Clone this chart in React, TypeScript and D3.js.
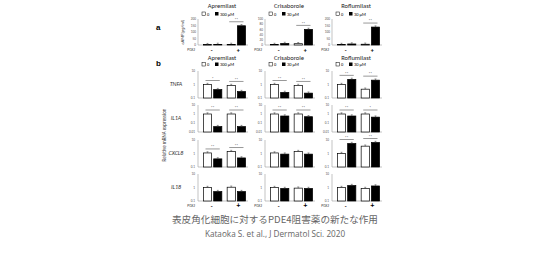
import React from 'react';
import * as d3 from 'd3';

const drugs = ['Apremilast', 'Crisaborole', 'Roflumilast'];
const doses = ['300 μM', '30 μM', '30 μM'];
const pgeLabels = ['-', '+'];
const conds = ['ctrl', 'drug'];

// panel a: cAMP (pg/ml), per drug [PGE2 -, PGE2 +]
const campCtrl = [[3, 5], [2, 5], [4, 6]];
const campDrug = [[5, 148], [6, 60], [8, 138]];
const campMax = [200, 100, 200];
const campTicks = [[0, 50, 100, 150, 200], [0, 20, 40, 60, 80, 100], [0, 50, 100, 150, 200]];
const campSig = [['', '**'], ['', '**'], ['', '**']];

// panel b: relative mRNA expression
const genes = ['TNFA', 'IL1A', 'CXCL8', 'IL18'];
const geneMin = [0.1, 0.01, 0.1, 0.1];
const geneTicks = [['10', '1', '0.1'], ['10', '1', '0.1', '0.01'], ['10', '1', '0.1'], ['10', '1', '0.1']];
const tnfaCtrl = [[1.0, 0.85], [1.0, 0.85], [1.0, 0.45]];
const tnfaDrug = [[0.42, 0.3], [0.26, 0.23], [2.4, 2.1]];
const il1aCtrl = [[1.0, 1.0], [1.0, 1.0], [1.0, 1.0]];
const il1aDrug = [[0.04, 0.04], [0.6, 0.5], [0.6, 0.45]];
const cxcl8Ctrl = [[1.1, 1.4], [1.1, 1.4], [1.0, 3.5]];
const cxcl8Drug = [[0.4, 0.47], [0.9, 0.9], [5.5, 6.5]];
const il18Ctrl = [[1.0, 1.05], [1.0, 0.9], [1.0, 0.85]];
const il18Drug = [[0.5, 0.5], [0.85, 0.85], [1.4, 1.3]];
const tnfaSig = [['*', '**'], ['**', '**'], ['**', '**']];
const il1aSig = [['**', '**'], ['**', '**'], ['**', '*']];
const cxcl8Sig = [['**', '**'], ['', ''], ['**', '**']];
const il18Sig = [['', ''], ['', ''], ['', '']];

const geneCtrl = [tnfaCtrl, il1aCtrl, cxcl8Ctrl, il18Ctrl];
const geneDrug = [tnfaDrug, il1aDrug, cxcl8Drug, il18Drug];
const geneSig = [tnfaSig, il1aSig, cxcl8Sig, il18Sig];

const caption = '表皮角化細胞に対するPDE4阻害薬の新たな作用';
const citation = 'Kataoka S. et al., J Dermatol Sci. 2020';

const W = 536, H = 254;
const colX = [198, 265, 332];
const plotW = 50;
const rowTop = [71, 105, 140, 174];
const rowH = 27;
const aTop = 19, aBottom = 45;
const axisColor = '#9a9a9a';
const font = 'Calibri, Carlito, "Open Sans", "DejaVu Sans", sans-serif';

function Bars({ x0, yScale, base, ctrl, drug, sig, sigFont }: any) {
  const g = d3.scaleBand<string>().domain(pgeLabels).range([x0 + 3, x0 + plotW]).paddingInner(0.12).paddingOuter(0.05);
  const s = d3.scaleBand<string>().domain(conds).range([0, g.bandwidth()]).paddingInner(0.2).paddingOuter(0.12);
  const y0 = yScale(base);
  const out: any[] = [];
  pgeLabels.forEach((p, i) => {
    const vals = [ctrl[i], drug[i]];
    conds.forEach((c, j) => {
      const x = (g(p) as number) + (s(c) as number);
      const y = yScale(vals[j]);
      out.push(
        <rect key={`b${i}${j}`} x={x} y={y} width={s.bandwidth()} height={Math.max(0.5, y0 - y)}
          fill={j === 0 ? '#fff' : '#000'} stroke="#000" strokeWidth={0.7} />
      );
      const cx = x + s.bandwidth() / 2;
      out.push(<line key={`e${i}${j}`} x1={cx} x2={cx} y1={y} y2={y - 1.2} stroke="#444" strokeWidth={0.5} />);
      out.push(<line key={`f${i}${j}`} x1={cx - 1} x2={cx + 1} y1={y - 1.2} y2={y - 1.2} stroke="#444" strokeWidth={0.5} />);
    });
    if (sig[i]) {
      const xa = (g(p) as number) + (s('ctrl') as number) + s.bandwidth() / 2;
      const xb = (g(p) as number) + (s('drug') as number) + s.bandwidth() / 2;
      const top = Math.min(yScale(vals[0]), yScale(vals[1]));
      const ly = top - 4;
      out.push(<line key={`s${i}`} x1={xa - 2} x2={xb + 2} y1={ly} y2={ly} stroke="#333" strokeWidth={0.5} />);
      out.push(<text key={`t${i}`} x={(xa + xb) / 2} y={ly - 0.8} fontSize={sigFont} textAnchor="middle" fill="#222">{sig[i]}</text>);
    }
  });
  return <g>{out}</g>;
}

export default function App() {
  const gPos = d3.scaleBand<string>().domain(pgeLabels).range([0, plotW]).paddingInner(0.12);
  return (
    <svg width={W} height={H} style={{ position: 'absolute', left: 0, top: 0, background: '#fff' }} fontFamily={font}>
      <text x={156} y={30} fontSize={8} fontWeight="bold" fontFamily="Arial, Liberation Sans, sans-serif">a</text>
      <text x={156} y={66} fontSize={8} fontWeight="bold" fontFamily="Arial, Liberation Sans, sans-serif">b</text>
      <text transform={`translate(184,${(aTop + aBottom) / 2}) rotate(-90)`} fontSize={4.6} textAnchor="middle" fontStyle="italic" fill="#333">cAMP(pg/ml)</text>
      <text transform={`translate(166,135) rotate(-90)`} fontSize={5} textAnchor="middle" fill="#333">Relative mRNA expression</text>

      {drugs.map((d, k) => {
        const x0 = colX[k];
        const yA = d3.scaleLinear().domain([0, campMax[k]]).range([aBottom, aTop]);
        const legend = (ly: number) => (
          <g>
            <rect x={x0 + 4} y={ly - 3} width={3.5} height={3.5} fill="#fff" stroke="#000" strokeWidth={0.5} />
            <text x={x0 + 9} y={ly + 0.5} fontSize={4.5}>0</text>
            <rect x={x0 + 17} y={ly - 3} width={3.5} height={3.5} fill="#000" />
            <text x={x0 + 22} y={ly + 0.5} fontSize={4.5}>{doses[k]}</text>
          </g>
        );
        return (
          <g key={d}>
            {/* panel a */}
            <text x={x0 + 24} y={8} fontSize={6.5} textAnchor="middle" fill="#222">{d}</text>
            {legend(15)}
            <line x1={x0} x2={x0} y1={aTop} y2={aBottom} stroke={axisColor} strokeWidth={0.6} />
            <line x1={x0} x2={x0 + plotW} y1={aBottom} y2={aBottom} stroke={axisColor} strokeWidth={0.6} />
            {campTicks[k].map(t => (
              <text key={t} x={x0 - 2} y={yA(t) + 1.2} fontSize={3.4} textAnchor="end" fill="#555">{t}</text>
            ))}
            <Bars x0={x0} yScale={yA} base={0} ctrl={campCtrl[k]} drug={campDrug[k]} sig={campSig[k]} sigFont={4} />
            <text x={x0 - 3} y={51} fontSize={3.6} textAnchor="end" fill="#333">PGE2</text>
            {pgeLabels.map(p => (
              <text key={p} x={x0 + (gPos(p) as number) + gPos.bandwidth() / 2 + 2} y={51.5} fontSize={6} textAnchor="middle" fontWeight="bold">{p}</text>
            ))}

            {/* panel b */}
            <text x={x0 + 24} y={59.5} fontSize={6.5} textAnchor="middle" fill="#222">{d}</text>
            {legend(65.5)}
            {genes.map((gname, r) => {
              const yL = d3.scaleLog().domain([geneMin[r], 10]).range([rowTop[r] + rowH, rowTop[r]]);
              return (
                <g key={gname}>
                  <line x1={x0} x2={x0} y1={rowTop[r]} y2={rowTop[r] + rowH} stroke={axisColor} strokeWidth={0.6} />
                  <line x1={x0} x2={x0 + plotW} y1={rowTop[r] + rowH} y2={rowTop[r] + rowH} stroke={axisColor} strokeWidth={0.6} />
                  {geneTicks[r].map(t => (
                    <text key={t} x={x0 - 3} y={yL(+t) + 1.2} fontSize={3.4} textAnchor="end" fill="#555">{t}</text>
                  ))}
                  <Bars x0={x0} yScale={yL} base={geneMin[r]} ctrl={geneCtrl[r][k]} drug={geneDrug[r][k]} sig={geneSig[r][k]} sigFont={4} />
                </g>
              );
            })}
            <text x={x0 - 3} y={207} fontSize={3.6} textAnchor="end" fill="#333">PGE2</text>
            {pgeLabels.map(p => (
              <text key={p} x={x0 + (gPos(p) as number) + gPos.bandwidth() / 2 + 2} y={208} fontSize={p === '+' ? 7.5 : 6} textAnchor="middle" fontWeight="bold">{p}</text>
            ))}
          </g>
        );
      })}

      {genes.map((gname, r) => (
        <text key={gname} x={176} y={rowTop[r] + 15} fontSize={6} fontStyle="italic" textAnchor="middle" fill="#333">{gname}</text>
      ))}

      <text x={275} y={223} fontSize={9.6} textAnchor="middle" fill="#666" fontFamily='"Noto Sans CJK JP", sans-serif'>{caption}</text>
      <text x={275} y={237} fontSize={8.2} textAnchor="middle" fill="#666" fontFamily='"Open Sans", "Noto Sans", sans-serif'>{citation}</text>
    </svg>
  );
}
